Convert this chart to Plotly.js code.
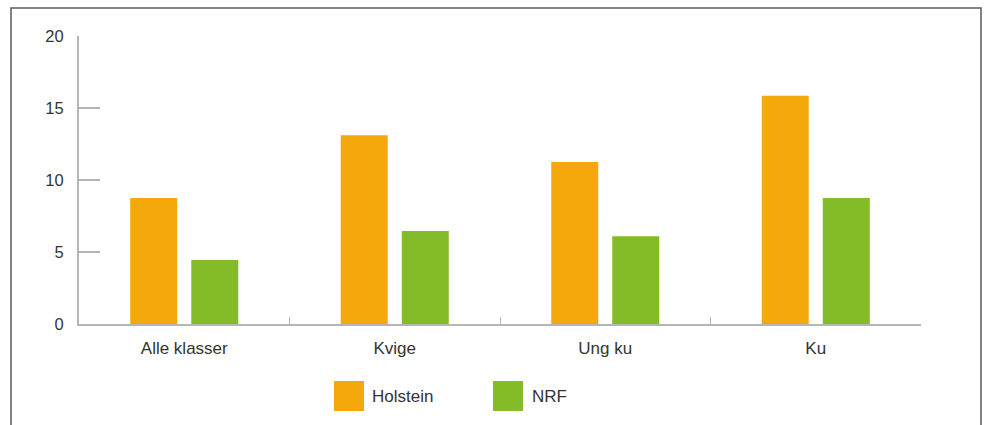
<!DOCTYPE html>
<html>
<head>
<meta charset="utf-8">
<script src="https://cdn.plot.ly/plotly-3.0.1.min.js"></script>
<style>html,body{margin:0;padding:0;background:#fff;}</style>
</head>
<body>
<div id="chart" style="width:987px;height:425px;"></div>
<script>
const categories = ["Alle klasser", "Kvige", "Ung ku", "Ku"];
const holstein = [8.75, 13.1, 11.25, 15.85];
const nrf = [4.45, 6.45, 6.1, 8.75];
const seriesNames = ["Holstein", "NRF"];
const yTicks = [0, 5, 10, 15, 20];

const ORANGE = "#F5A80B";
const GREEN = "#83BB29";
const AXIS = "#b5b5b5";
const TEXT = "#333333";
const FONT = "Liberation Sans, Arial, Helvetica, sans-serif";

const traces = [
  {type: "bar", name: seriesNames[0], x: categories, y: holstein, marker: {color: ORANGE}, showlegend: false, hoverinfo: "x+y+name"},
  {type: "bar", name: seriesNames[1], x: categories, y: nrf, marker: {color: GREEN}, showlegend: false, hoverinfo: "x+y+name"}
];

const layout = {
  width: 987, height: 425,
  margin: {l: 79, r: 66, t: 36, b: 101},
  paper_bgcolor: "#ffffff", plot_bgcolor: "#ffffff",
  barmode: "group", bargap: 0.42, bargroupgap: 0.23,
  font: {family: FONT, color: TEXT, size: 16},
  showlegend: false,
  xaxis: {
    type: "category",
    showline: true, linecolor: AXIS, linewidth: 2,
    ticks: "inside", tickson: "boundaries", ticklen: 7, tickcolor: AXIS, tickwidth: 1,
    showgrid: false, zeroline: false,
    tickfont: {family: FONT, size: 17, color: TEXT},
    ticklabelstandoff: 8
  },
  yaxis: {
    range: [0, 20], tickvals: yTicks, ticktext: yTicks.map(String),
    showline: true, linecolor: AXIS, linewidth: 2,
    ticks: "inside", ticklen: 21, tickcolor: AXIS, tickwidth: 1.5,
    showgrid: false, zeroline: false,
    tickfont: {family: FONT, size: 16.5, color: TEXT},
    ticklabelstandoff: 10
  },
  shapes: [
    {type: "rect", xref: "paper", yref: "paper", x0: -68/842, x1: 902/842, y0: -0.6, y1: 28/288 + 1,
     line: {color: "#5a5a5a", width: 1.5}, fillcolor: "rgba(0,0,0,0)", layer: "below"},
    {type: "rect", xref: "paper", yref: "paper", x0: 255/842, x1: 285/842, y0: -87/288, y1: -57/288,
     line: {width: 0}, fillcolor: ORANGE},
    {type: "rect", xref: "paper", yref: "paper", x0: 414/842, x1: 444/842, y0: -87/288, y1: -57/288,
     line: {width: 0}, fillcolor: GREEN}
  ],
  annotations: [
    {xref: "paper", yref: "paper", x: 291/842, y: -72/288, xanchor: "left", yanchor: "middle",
     text: seriesNames[0], showarrow: false, font: {family: FONT, size: 17, color: TEXT}},
    {xref: "paper", yref: "paper", x: 451/842, y: -72/288, xanchor: "left", yanchor: "middle",
     text: seriesNames[1], showarrow: false, font: {family: FONT, size: 17, color: TEXT}}
  ]
};

Plotly.newPlot("chart", traces, layout, {displayModeBar: false, staticPlot: true});
</script>
</body>
</html>
